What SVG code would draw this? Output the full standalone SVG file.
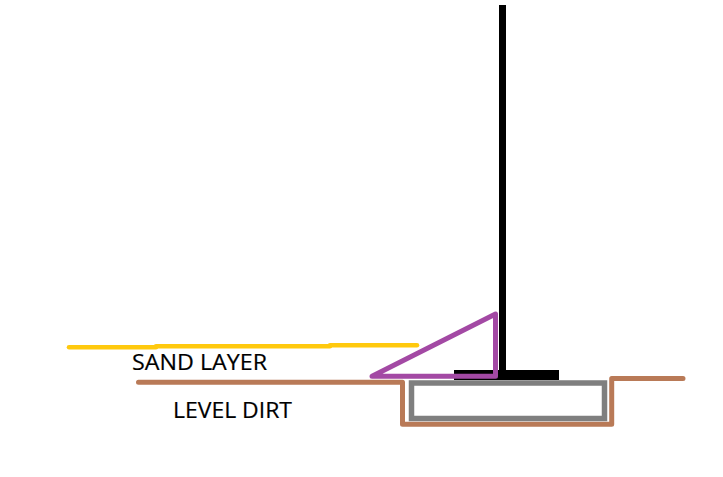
<svg xmlns="http://www.w3.org/2000/svg" width="723" height="477" viewBox="0 0 723 477">
<style>
.l{fill:none;stroke-linejoin:round;stroke-linecap:round}
.sand{stroke:#ffc90e;stroke-width:4.500}
.dirt{stroke:#b97a57;stroke-width:5}
.t{font-family:"Open Sans","Noto Sans",sans-serif;font-size:22.500px;fill:#000;stroke:#000;stroke-width:.2}
</style>
<rect width="723" height="477" fill="#fff"/>
<g id="sand-layer">
<path class="l sand" d="M69 347.300H156"/>
<path class="l sand" d="M156 346.300H330"/>
<path class="l sand" d="M330 345.200H417"/>
</g>
<g id="dirt">
<path class="l dirt" d="M138.500 382.300H402.500V424.300H611.700V378.500H683"/>
</g>
<g id="footing">
<rect x="411.500" y="383" width="193" height="35.500" fill="none" stroke="#7f7f7f" stroke-width="5.500"/>
</g>
<g id="post">
<rect x="499" y="5" width="7" height="366"/>
<rect x="454" y="370" width="105" height="10"/>
</g>
<g id="wedge">
<path class="l" d="M372 376.300L495.500 314V376.300Z" stroke="#a349a4" stroke-width="5"/>
</g>
<text class="t" x="132" y="370" textLength="135" lengthAdjust="spacingAndGlyphs">SAND LAYER</text>
<text class="t" x="173" y="418" textLength="119" lengthAdjust="spacingAndGlyphs">LEVEL DIRT</text>
</svg>
